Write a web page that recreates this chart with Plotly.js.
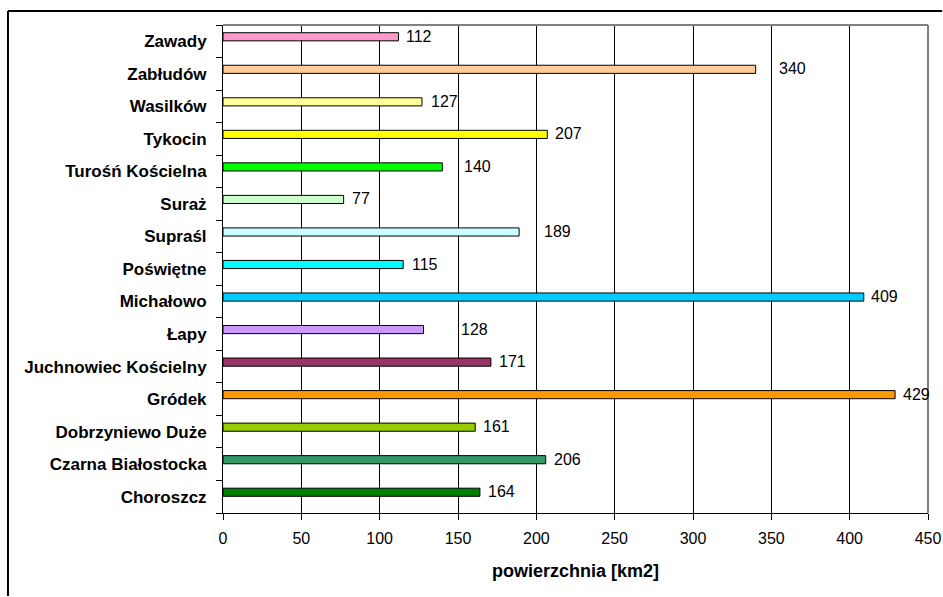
<!DOCTYPE html>
<html>
<head>
<meta charset="utf-8">
<script src="https://cdn.plot.ly/plotly-3.0.1.min.js"></script>
<style>html,body{margin:0;padding:0;background:#fff;overflow:hidden;}#chart{width:943px;height:597px;}</style>
</head>
<body>
<div id="chart"></div>
<script>
// Categories listed bottom to top
const categories = ["Choroszcz","Czarna Białostocka","Dobrzyniewo Duże","Gródek","Juchnowiec Kościelny","Łapy","Michałowo","Poświętne","Supraśl","Suraż","Turośń Kościelna","Tykocin","Wasilków","Zabłudów","Zawady"];
const values = [164, 206, 161, 429, 171, 128, 409, 115, 189, 77, 140, 207, 127, 340, 112];
const barColors = ["#008000","#339966","#99CC00","#FF9900","#993366","#CC99FF","#00CCFF","#00FFFF","#CCFFFF","#CCFFCC","#00FF00","#FFFF00","#FFFF99","#FFCC99","#FF99CC"];
// horizontal gap (px) between bar end and its value label
const labelGaps = [6, 6, 6, 6, 6, 35, 5, 7, 23, 6, 20, 6, 7, 21, 6];
const xTicks = [0, 50, 100, 150, 200, 250, 300, 350, 400, 450];
const xTitle = "powierzchnia [km2]";

const FONT = "Liberation Sans, Arial, sans-serif";

const trace = {
  type: "bar",
  orientation: "h",
  y: categories,
  x: values,
  width: 0.25,
  offset: 0.013,
  marker: {color: barColors, line: {color: "#000", width: 1}},
  hoverinfo: "x+y",
  showlegend: false
};

const annotations = categories.map((c, i) => ({
  x: values[i], y: c, xref: "x", yref: "y",
  text: String(values[i]), showarrow: false,
  xanchor: "left", yanchor: "middle",
  xshift: labelGaps[i], yshift: 5,
  font: {family: FONT, size: 16, color: "#000"}
}));

const layout = {
  width: 943, height: 597,
  margin: {l: 223, r: 15, t: 25, b: 84},
  paper_bgcolor: "#fff", plot_bgcolor: "#fff",
  font: {family: FONT, size: 16, color: "#000"},
  bargap: 0,
  xaxis: {
    range: [0, 450], tickvals: xTicks, ticktext: xTicks.map(String),
    showgrid: true, gridcolor: "#000", gridwidth: 1,
    zeroline: false, showline: true, linecolor: "#000", linewidth: 1,
    ticks: "outside", ticklen: 6, tickcolor: "#000",
    ticklabelstandoff: 5,
    tickfont: {family: FONT, size: 16, color: "#000"},
    title: {text: "<b>" + xTitle + "</b>", font: {family: FONT, size: 18, color: "#000"}, standoff: 18},
    fixedrange: true
  },
  yaxis: {
    type: "category", categoryorder: "array", categoryarray: categories,
    showgrid: false, zeroline: false, showline: true, linecolor: "#000", linewidth: 1,
    ticks: "outside", ticklen: 6, tickcolor: "#000", tickson: "boundaries",
    ticklabelstandoff: 12,
    tickfont: {family: FONT, size: 17, color: "#000", weight: "bold"},
    fixedrange: true
  },
  annotations: annotations,
  shapes: [
    // plot area top/right border (gray)
    {type: "line", xref: "paper", yref: "paper", x0: 0, x1: 1, y0: 1, y1: 1, line: {color: "#808080", width: 2}},
    {type: "line", xref: "paper", yref: "paper", x0: 1, x1: 1, y0: 0, y1: 1, line: {color: "#808080", width: 2}},
    // outer chart border (left and top edges visible)
    {type: "line", xref: "paper", yref: "paper", x0: -0.305, x1: 1.02, y0: 1.0287, y1: 1.0287, line: {color: "#000", width: 2}},
    {type: "line", xref: "paper", yref: "paper", x0: -0.305, x1: -0.305, y0: -0.17, y1: 1.0287, line: {color: "#000", width: 2}}
  ]
};

Plotly.newPlot("chart", [trace], layout, {displayModeBar: false, staticPlot: true});
</script>
</body>
</html>
